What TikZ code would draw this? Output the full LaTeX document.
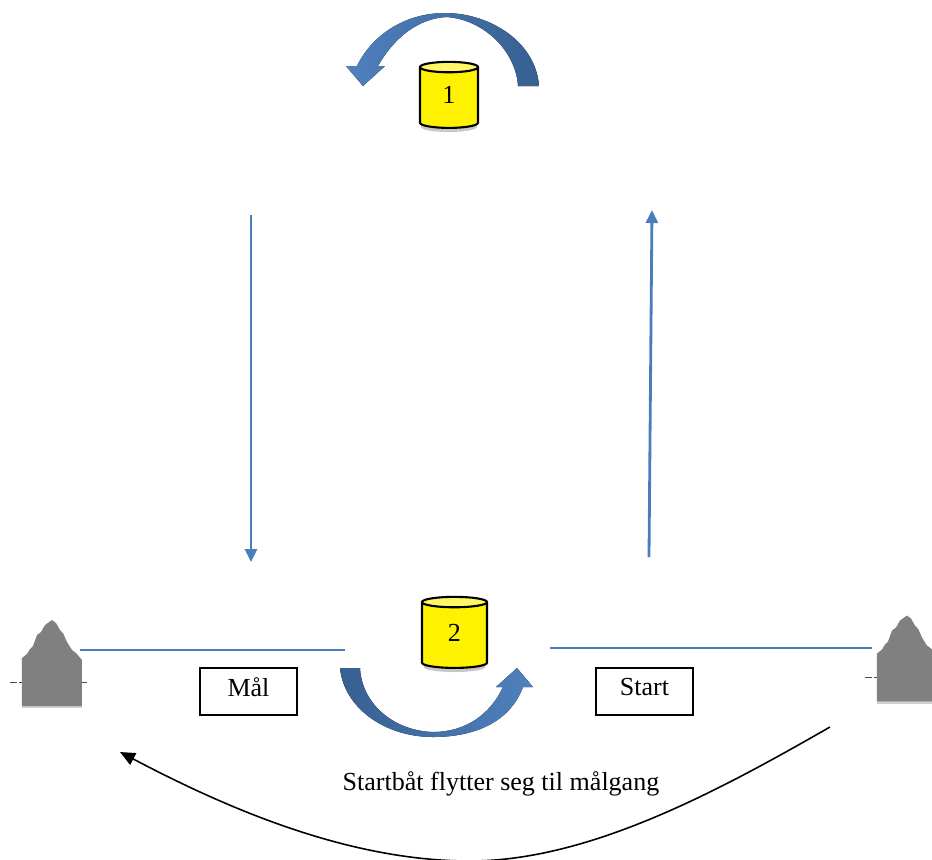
\documentclass[tikz,border=0pt]{standalone}
\usepackage{fontspec}
\setmainfont{Liberation Serif}
\usetikzlibrary{arrows.meta,positioning,shapes.geometric}
\definecolor{lineblue}{HTML}{4A7EBB}
\definecolor{arcdark}{HTML}{376092}
\definecolor{arclight}{HTML}{4F81BD}
\begin{document}
\begin{tikzpicture}
[x=0.01cm,y=-0.01cm,
font=\fontsize{7.4}{9}\selectfont,
buoy/.style={cylinder,shape border rotate=90,aspect=0.8,draw=black,semithick,inner sep=0pt,text depth=1.7pt,cylinder uses custom fill,cylinder body fill=yellow,cylinder end fill=yellow!60!white},
buoyshade/.style={fill=black!22},
tag/.style={rectangle,draw=black,semithick,minimum width=0.97cm,minimum height=0.47cm,inner sep=0pt,text depth=2.6pt},
course/.style={draw=lineblue,semithick},
leg/.style={course,line width=0.8pt,-{Triangle[length=1.3mm,width=1.2mm]}},
boat/.pic={
\fill [black!18] (22,706) rectangle (82,708);
\fill [black!50] (22,706) -- (22,658) -- (27,654) -- (30,649) -- (33,646) -- (37,635) -- (41,632) -- (45,625) -- (52,620) -- (56,623) -- (60,630) -- (63,633) -- (67,642) -- (72,650) -- (76,653) -- (82,660) -- (82,706) -- cycle;
\draw [black!70,very thin,dash pattern=on 2pt off 0.6pt] (10,682) -- (22,682);
\draw [black!70,very thin,dash pattern=on 2pt off 0.6pt] (82,682) -- (87,682);
}]

\useasboundingbox (0,0) rectangle (932,859);
\clip (0,0) rectangle (932,859);

\fill [buoyshade] (449,127) ellipse (28 and 5);
\fill [buoyshade] (454.5,667) ellipse (31 and 5);
\node[buoy,minimum width=0.58cm,minimum height=0.66cm] (b1) at (449,98) {1};
\node[buoy,minimum width=0.65cm,minimum height=0.71cm] (b2) at (454.5,635.5) {2};

\node[tag] (mal) at (248.5,691.5) {Mål};
\node[tag] (start) at (644.5,691.5) {Start};
\node (move) at (501,784) {Startbåt flytter seg til målgang};

% turn arrows round the buoys
\fill [left color=arclight,right color=arcdark] (539,86) .. controls (536,42) and (490,13) .. (445,13) .. controls (405,13) and (372,35) .. (357,66) -- (346,66) -- (363,86) -- (385,66) -- (378,66) .. controls (395,36) and (420,18) .. (447,17) .. controls (485,20) and (516,52) .. (518,86) -- cycle;
\fill [left color=arcdark,right color=arclight] (340,668) .. controls (344,708) and (385,737) .. (433,737) .. controls (475,737) and (510,722) .. (523,687) -- (533,687) -- (517,668) -- (496,687) -- (503,687) .. controls (490,715) and (465,732) .. (433,732) .. controls (395,731) and (362,705) .. (360,668) -- cycle;

\coordinate (l1) at (251,215);
\coordinate (l2) at (251,562);
\coordinate (r1) at (649,557);
\coordinate (r2) at (652,210);
\draw [leg] (l1) -- (l2);
\draw [leg] (r1) -- (r2);

\coordinate (m1) at (80,650);
\coordinate (m2) at (345,650);
\coordinate (s1) at (550,648);
\coordinate (s2) at (872,648);
\draw [course] (m1) -- (m2);
\draw [course] (s1) -- (s2);

\pic at (0,0) {boat};
\pic at (855,-4.5) {boat};

\coordinate (c1) at (830,727);
\coordinate (c2) at (120,752);
\coordinate (c3) at (470,861);
\draw [black,line width=0.45pt,-{Triangle[length=1.5mm,width=1.3mm]}] (c1) .. controls (720,790) and (590,861) .. (c3) .. controls (350,861) and (230,810) .. (c2);
\end{tikzpicture}
\end{document}
